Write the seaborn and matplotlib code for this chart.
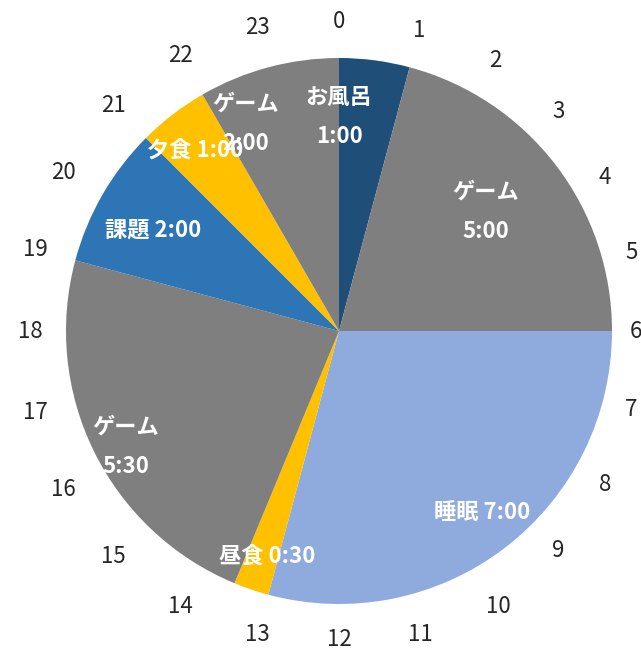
import numpy as np
import matplotlib
matplotlib.use("Agg")
import matplotlib.pyplot as plt
import seaborn as sns

sns.set_theme(style="white")
plt.rcParams['font.family'] = ['Noto Sans CJK JP', 'DejaVu Sans']

# ---- data ----
activities = ["お風呂", "ゲーム", "睡眠", "昼食", "ゲーム", "課題", "夕食", "ゲーム"]
hours = [1.0, 5.0, 7.0, 0.5, 5.5, 2.0, 1.0, 2.0]
durations = ["1:00", "5:00", "7:00", "0:30", "5:30", "2:00", "1:00", "2:00"]
two_line = [True, True, False, False, True, False, False, True]
colors = ["#1F4E79", "#7F7F7F", "#8FAADC", "#FFC000", "#7F7F7F", "#2E75B6", "#FFC000", "#7F7F7F"]
hour_ticks = list(range(24))

# ---- layout (label placement: angle clockwise from top in degrees, radius in px) ----
label_angle = [0.0, 51.0, 141.8, 197.7, 241.5, 298.5, 321.3, 335.8]
label_radius = [214, 189, 231, 237, 243, 212, 230, 227]

W, H = 641, 648
cx, cy, R = 339, H - 331, 273

fig = plt.figure(figsize=(W / 100, H / 100), dpi=100)
ax = fig.add_axes([0, 0, 1, 1])

palette = sns.color_palette(colors)
ax.pie(hours, colors=palette, startangle=90, counterclock=False,
       center=(cx, cy), radius=R, wedgeprops=dict(linewidth=0, edgecolor="none"))

# slice labels
for name, dur, tl, a, r in zip(activities, durations, two_line, label_angle, label_radius):
    t = np.deg2rad(a)
    x = cx + r * np.sin(t)
    y = cy + r * np.cos(t)
    txt = f"{name}\n{dur}" if tl else f"{name} {dur}"
    ax.text(x, y, txt, ha="center", va="center", color="white", fontsize=16,
            fontweight="bold", linespacing=1.9)

# hour labels around the clock (text box sits just outside the ring)
for h in hour_ticks:
    t = np.deg2rad(h * 15)
    ndig = len(str(h))
    r = 285 + 12 * ndig * abs(np.sin(t)) + 24 * abs(np.cos(t))
    x = cx + r * np.sin(t)
    y = cy + r * np.cos(t)
    ax.text(x, y, str(h), ha="center", va="center", color="#262626", fontsize=16,
            clip_on=False)

ax.set_xlim(0, W)
ax.set_ylim(0, H)
ax.set_aspect("equal")
ax.axis("off")
fig.savefig("out.png", dpi=100)
